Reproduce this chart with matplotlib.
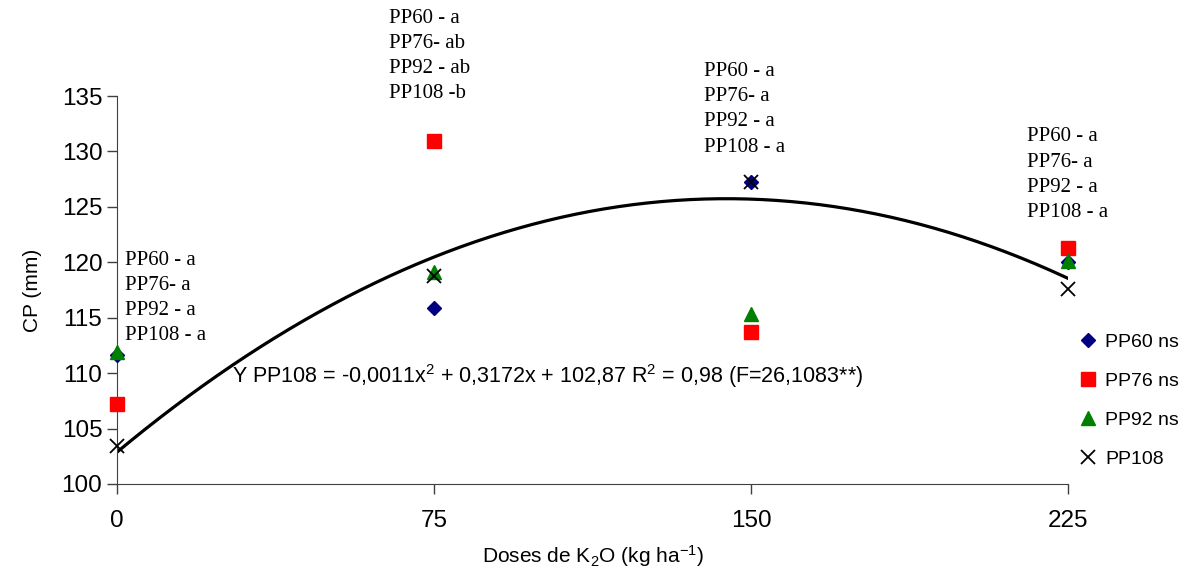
import numpy as np
from matplotlib import pyplot as plt

plt.rcParams['font.family'] = 'Liberation Sans'
plt.rcParams['mathtext.default'] = 'regular'

# doses of K2O
doses = [0, 75, 150, 225]

# CP (mm) for each plant population
pp60 = [111.6, 115.9, 127.2, 120.0]
pp76 = [107.2, 130.9, 113.7, 121.3]
pp92 = [111.9, 119.1, 115.3, 120.1]
pp108 = [103.4, 118.8, 127.2, 117.6]

# quadratic fit for PP108 (from the chart's equation)
fitCoef = [-0.0011, 0.3172, 102.87]

# letter groups above each dose
letters = [
    "PP60 - a\nPP76- a\nPP92 - a\nPP108 - a",
    "PP60 - a\nPP76- ab\nPP92 - ab\nPP108 -b",
    "PP60 - a\nPP76- a\nPP92 - a\nPP108 - a",
    "PP60 - a\nPP76- a\nPP92 - a\nPP108 - a",
]
letterPos = [(1.9, 116.8), (64.4, 138.6), (139.0, 133.8), (215.3, 127.9)]

fig = plt.figure(figsize=(11.91, 5.82), dpi=100)
ax = fig.add_axes([0.0982, 0.1684, 0.7985, 0.6666])

xs = np.linspace(0, 225, 200)
ax.plot(xs, np.polyval(fitCoef, xs), color='black', lw=2.3, zorder=2)

ax.plot(doses, pp60, ls='none', marker='D', ms=7, color='#000080', label='PP60 ns', zorder=3, clip_on=False)
ax.plot(doses, pp76, ls='none', marker='s', ms=10, color='#ff0000', label='PP76 ns', zorder=3, clip_on=False)
ax.plot(doses, pp92, ls='none', marker='^', ms=10, color='#008000', label='PP92 ns', zorder=3, clip_on=False)
ax.plot(doses, pp108, ls='none', marker='x', ms=10, mew=1.3, color='black', label='PP108', zorder=4, clip_on=False)

for txt, (tx, ty) in zip(letters, letterPos):
    ax.text(tx, ty, txt, family='Liberation Serif', fontsize=15, ha='left', va='center',
            linespacing=1.44, clip_on=False)

ax.text(27.2, 109.7, r'Y PP108 = -0,0011x$^2$ + 0,3172x + 102,87 R$^2$ = 0,98 (F=26,1083**)',
        fontsize=15.5, ha='left', va='center')

ax.set_xlim(0, 225)
ax.set_ylim(100, 135)
ax.set_xticks(doses)
ax.set_yticks(range(100, 136, 5))
ax.tick_params(labelsize=17.5, length=7, color='#404040', width=1)
ax.tick_params(axis='x', pad=12)
for side in ['top', 'right']:
    ax.spines[side].set_visible(False)
for side in ['left', 'bottom']:
    ax.spines[side].set_color('#404040')

ax.set_ylabel('CP (mm)', fontsize=15, labelpad=14)
ax.set_xlabel(r'Doses de K$_2$O (kg ha$^{-1}$)', fontsize=15, labelpad=8)

fig.legend(loc='center left', bbox_to_anchor=(0.905, 0.312), frameon=False, fontsize=14,
           handlelength=1, handletextpad=0.4, labelspacing=1.1, borderpad=0, borderaxespad=0)

plt.savefig('out.png', dpi=100)
